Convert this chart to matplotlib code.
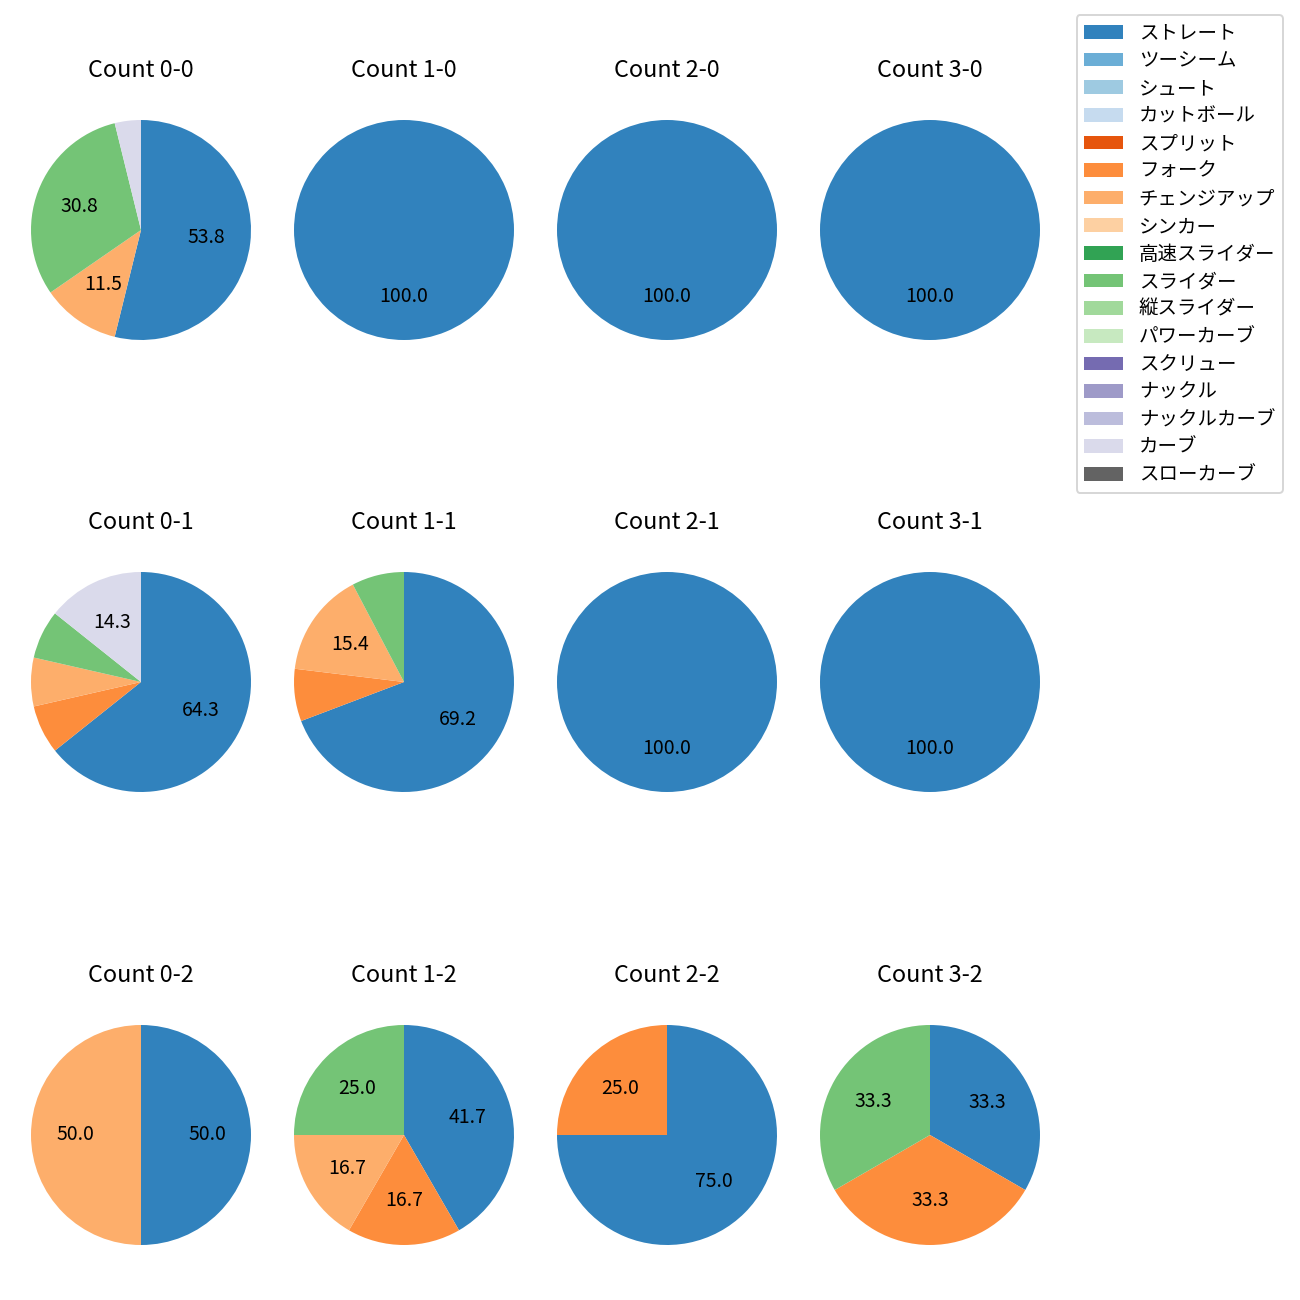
import matplotlib
matplotlib.use("Agg")
import matplotlib.pyplot as plt
from matplotlib.patches import Patch

plt.rcParams['font.family'] = ['Noto Sans CJK JP', 'DejaVu Sans']

pitch_types = ['ストレート', 'ツーシーム', 'シュート', 'カットボール', 'スプリット', 'フォーク',
               'チェンジアップ', 'シンカー', '高速スライダー', 'スライダー', '縦スライダー',
               'パワーカーブ', 'スクリュー', 'ナックル', 'ナックルカーブ', 'カーブ', 'スローカーブ']
pitch_colors = ['#3182bd', '#6baed6', '#9ecae1', '#c6dbef', '#e6550d', '#fd8d3c',
                '#fdae6b', '#fdd0a2', '#31a354', '#74c476', '#a1d99b', '#c7e9c0',
                '#756bb1', '#9e9ac8', '#bcbddc', '#dadaeb', '#636363']

# pitch counts per ball-strike count, {pitch type: number}
count_0_0 = {'ストレート': 14, 'チェンジアップ': 3, 'スライダー': 8, 'カーブ': 1}
count_1_0 = {'ストレート': 1}
count_2_0 = {'ストレート': 1}
count_3_0 = {'ストレート': 1}
count_0_1 = {'ストレート': 9, 'フォーク': 1, 'チェンジアップ': 1, 'スライダー': 1, 'カーブ': 2}
count_1_1 = {'ストレート': 9, 'フォーク': 1, 'チェンジアップ': 2, 'スライダー': 1}
count_2_1 = {'ストレート': 1}
count_3_1 = {'ストレート': 1}
count_0_2 = {'ストレート': 1, 'チェンジアップ': 1}
count_1_2 = {'ストレート': 5, 'フォーク': 2, 'チェンジアップ': 2, 'スライダー': 3}
count_2_2 = {'ストレート': 3, 'フォーク': 1}
count_3_2 = {'ストレート': 1, 'フォーク': 1, 'スライダー': 1}

grid = [[count_0_0, count_1_0, count_2_0, count_3_0],
        [count_0_1, count_1_1, count_2_1, count_3_1],
        [count_0_2, count_1_2, count_2_2, count_3_2]]

DPI = 140
W = H = 1300
fig = plt.figure(figsize=(W / DPI, H / DPI), dpi=DPI)

col_cx = [141, 404, 667, 930]
row_cy = [230, 682, 1135]
side = 275

color_of = dict(zip(pitch_types, pitch_colors))

for s in range(3):
    for b in range(4):
        data = grid[s][b]
        cx, cy = col_cx[b], row_cy[s]
        ax = fig.add_axes([(cx - side / 2) / W, 1 - (cy + side / 2) / H, side / W, side / H])
        labels = [p for p in pitch_types if data.get(p, 0) > 0]
        vals = [data[p] for p in labels]
        cols = [color_of[p] for p in labels]
        ax.pie(vals, colors=cols, startangle=90, counterclock=False,
               autopct=lambda pct: f'{pct:.1f}' if pct >= 10 else '')
        ax.set_title(f'Count {b}-{s}', fontsize=12, pad=8)

handles = [Patch(facecolor=c) for c in pitch_colors]
fig.legend(handles, pitch_types, loc='upper right',
           bbox_to_anchor=(1283 / W, 1 - 15 / H), borderaxespad=0, fontsize=10,
           labelspacing=0.34)

fig.savefig('out.png', dpi=DPI)
